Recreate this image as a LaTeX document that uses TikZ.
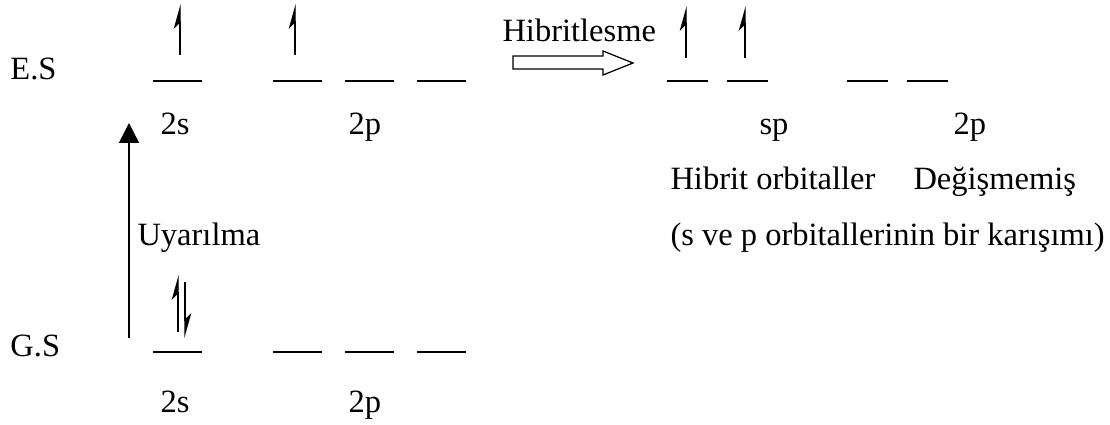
\documentclass[tikz,border=0pt]{standalone}
\usepackage{fontspec}
\setmainfont{Liberation Serif}
\usetikzlibrary{arrows.meta}
\tikzset{
  orb/.style={inner sep=0pt, outer sep=0pt, minimum width=19.6pt, minimum height=0pt},
  orbsm/.style={orb, minimum width=16.4pt},
  level/.style={draw=black, line width=0.8pt},
  elec/.style={-{Stealth[harpoon, length=9pt, width=5pt, inset=2.5pt]}, draw=black, line width=0.5pt},
  excite/.style={-{Triangle[length=8pt, width=8pt]}, draw=black, line width=0.6pt},
  hollow/.style={draw=black, fill=white, line width=0.5pt, line join=miter},
  txt/.style={font=\fontsize{13}{15}\selectfont, inner sep=0pt, anchor=base west},
}
\begin{document}
\begin{tikzpicture}[x=0.4pt,y=-0.4pt]
  \useasboundingbox (0,0) rectangle (1110,425);
  % state names
  \node[txt] (esname) at (10,80) {E.S};
  \node[txt] (gsname) at (10,356) {G.S};
  % excited state orbitals
  \node[orb] (es2s) at (177.5,81) {};
  \node[orb] (es2pa) at (297.5,81) {};
  \node[orb] (es2pb) at (369.5,81) {};
  \node[orb] (es2pc) at (441.5,81) {};
  \draw[level] (es2s.west) -- (es2s.east);
  \draw[level] (es2pa.west) -- (es2pa.east);
  \draw[level] (es2pb.west) -- (es2pb.east);
  \draw[level] (es2pc.west) -- (es2pc.east);
  \draw[elec] ([shift={(2.5,-26)}]es2s.center) -- ([shift={(2.5,-77)}]es2s.center);
  \draw[elec] ([shift={(-2.5,-26)}]es2pa.center) -- ([shift={(-2.5,-77)}]es2pa.center);
  \node[txt] (es2slbl) at (160,135) {2s};
  \node[txt] (es2plbl) at (348,135) {2p};
  % ground state orbitals
  \node[orb] (gs2s) at (177.5,352) {};
  \node[orb] (gs2pa) at (297.5,352) {};
  \node[orb] (gs2pb) at (369.5,352) {};
  \node[orb] (gs2pc) at (441.5,352) {};
  \draw[level] (gs2s.west) -- (gs2s.east);
  \draw[level] (gs2pa.west) -- (gs2pa.east);
  \draw[level] (gs2pb.west) -- (gs2pb.east);
  \draw[level] (gs2pc.west) -- (gs2pc.east);
  \draw[elec] ([shift={(0.5,-20)}]gs2s.center) -- ([shift={(0.5,-77)}]gs2s.center);
  \draw[elec] ([shift={(7.5,-70)}]gs2s.center) -- ([shift={(7.5,-14)}]gs2s.center);
  \node[txt] (gs2slbl) at (160,412) {2s};
  \node[txt] (gs2plbl) at (348,412) {2p};
  % excitation
  \coordinate (upfoot) at (129,338);
  \coordinate (uphead) at (129,123);
  \draw[excite] (upfoot) -- (uphead);
  \node[txt] (uplbl) at (137,245) {Uyarılma};
  % hybridisation step
  \node[txt] (hyblbl) at (502,42) {Hibritlesme};
  \draw[hollow] (513,56) -- (603,56) -- (603,51) -- (633,63) -- (603,75) -- (603,69) -- (513,69) -- cycle;
  % hybrid and unchanged orbitals
  \node[orbsm] (spa) at (687.5,81) {};
  \node[orbsm] (spb) at (747.5,81) {};
  \node[orbsm] (pa) at (867,81) {};
  \node[orbsm] (pb) at (927,81) {};
  \draw[level] (spa.west) -- (spa.east);
  \draw[level] (spb.west) -- (spb.east);
  \draw[level] (pa.west) -- (pa.east);
  \draw[level] (pb.west) -- (pb.east);
  \draw[elec] ([shift={(-1.5,-23)}]spa.center) -- ([shift={(-1.5,-75)}]spa.center);
  \draw[elec] ([shift={(-2.5,-23)}]spb.center) -- ([shift={(-2.5,-75)}]spb.center);
  \node[txt] (splbl) at (759,135) {sp};
  \node[txt] (plbl) at (953,135) {2p};
  \node[txt] (hybname) at (670,190) {Hibrit orbitaller};
  \node[txt] (keepname) at (913,190) {Değişmemiş};
  \node[txt] (mixname) at (670,245) {(s ve p orbitallerinin bir karışımı)};
\end{tikzpicture}
\end{document}
